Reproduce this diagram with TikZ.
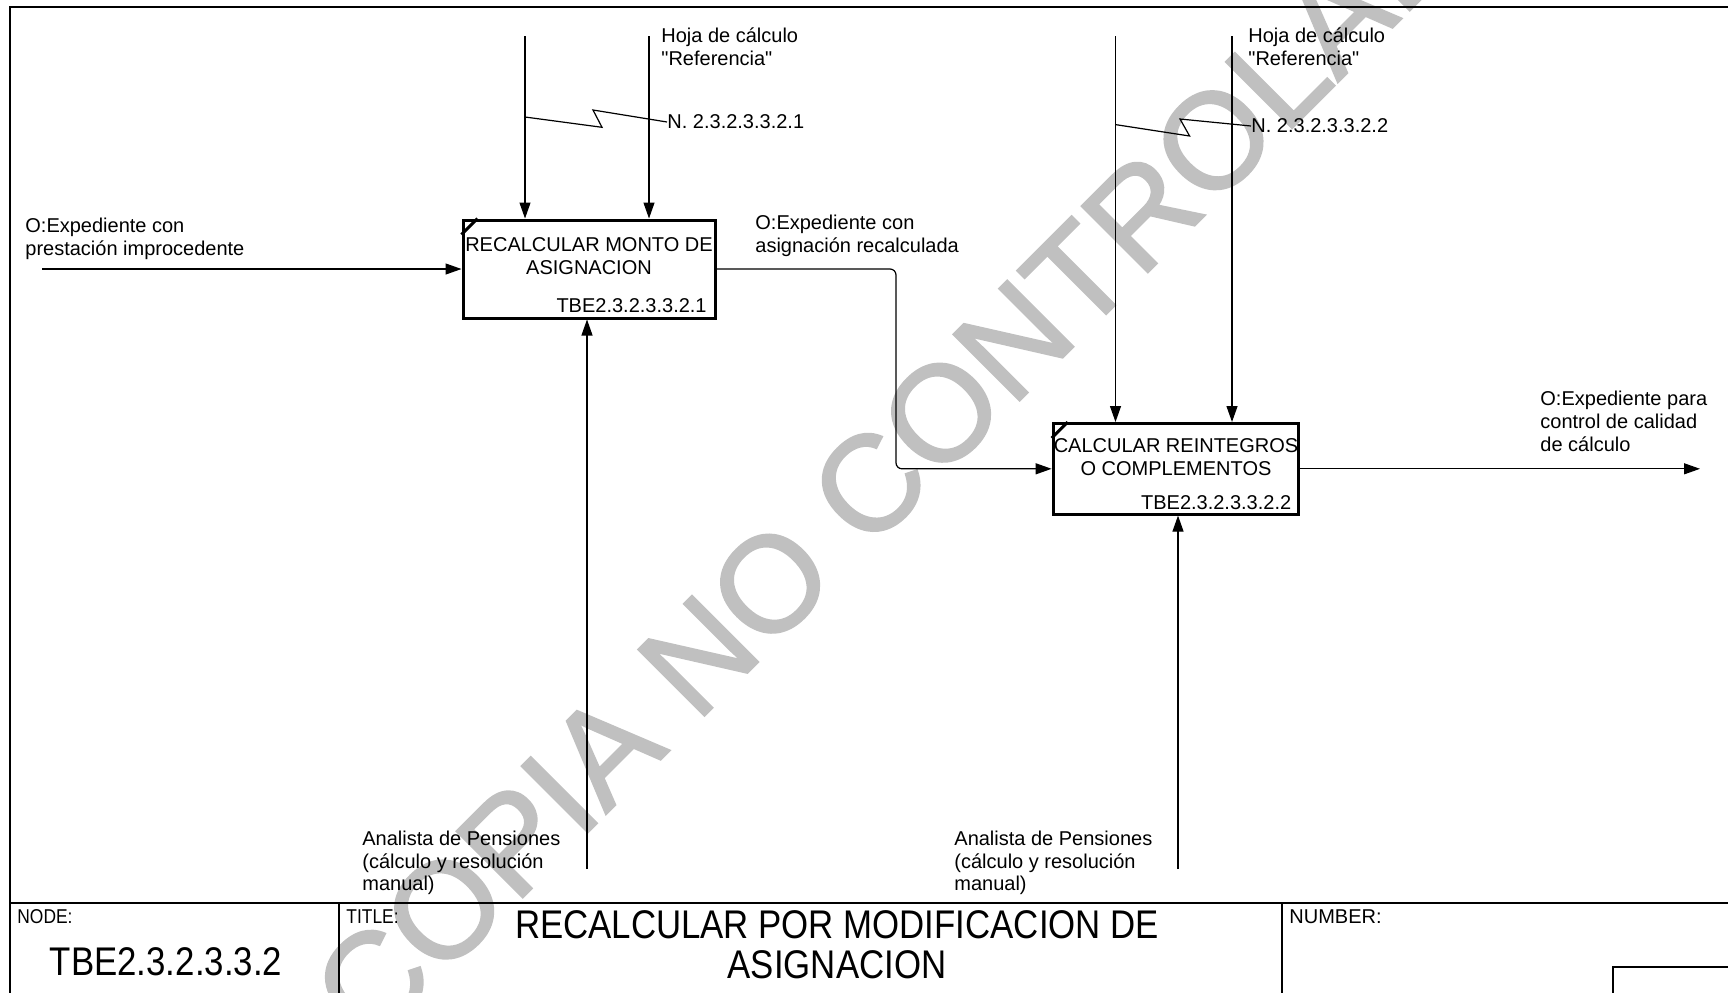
\documentclass[tikz,border=0pt]{standalone}
\usepackage{fontspec}
\setmainfont{Liberation Sans}
\newfontfamily\narrowsans[FakeStretch=0.87]{Liberation Sans}
\newfontfamily\wmsans[FakeBold=1.5]{Liberation Sans}
\usetikzlibrary{arrows.meta}
\definecolor{wmgray}{RGB}{192,192,192}

\begin{document}
\begin{tikzpicture}[x=0.5pt, y=-0.5pt,
    every node/.style={font=\fontsize{10pt}{11.4pt}\selectfont, inner sep=0pt},
    actbox/.style={draw, line width=1.5pt, fill=none},
    flow/.style={line width=0.6pt, -{Triangle[length=8pt,width=5.5pt]}},
    frame/.style={line width=0.9pt},
    lbl/.style={anchor=west, align=left},
    tblock/.style={font=\narrowsans\fontsize{#1}{#1}\selectfont}]
    \clip (0,0) rectangle (1728,992);
    \node[rotate=45, text=wmgray, font=\wmsans\fontsize{68pt}{68pt}\selectfont] (wm) at (920,434) {COPIA NO CONTROLADA};

    \draw[frame] (10,1000) |- (1740,7);
    \draw[frame] (10,903) -- (1740,903);
    \draw[frame] (339,903) -- (339,1000);
    \draw[frame] (1282,903) -- (1282,1000);
    \draw[line width=0.6pt] (1613,1000) |- (1740,967);

    \node[actbox, minimum width=126pt, minimum height=49pt] (recalc) at (589,269) {};
    \node[actbox, minimum width=122.5pt, minimum height=45.3pt] (calc) at (1175.6,468.8) {};
    \draw[line width=1.5pt] ([yshift=-8pt]recalc.north west) -- ([xshift=8pt]recalc.north west);
    \draw[line width=1.5pt] ([yshift=-8pt]calc.north west) -- ([xshift=8pt]calc.north west);
    \node[align=center] (recalc-name) at (589,256) {RECALCULAR MONTO DE\\ASIGNACION};
    \node[anchor=east] (recalc-num) at (707,305.6) {TBE2.3.2.3.3.2.1};
    \node[align=center] (calc-name) at (1176,457.5) {CALCULAR REINTEGROS\\O COMPLEMENTOS};
    \node[anchor=east] (calc-num) at (1291.6,503) {TBE2.3.2.3.3.2.2};

    \node[lbl] (in-lbl) at (25,239) {O:Expediente con\\prestación improcedente};
    \node[lbl] (ref1) at (661,46.4) {Hoja de cálculo\\\textquotedbl Referencia\textquotedbl};
    \node[lbl] (n1) at (667,122) {N. 2.3.2.3.3.2.1};
    \node[lbl] (out1-lbl) at (755,236) {O:Expediente con\\asignación recalculada};
    \node[lbl] (ref2) at (1248,46.4) {Hoja de cálculo\\\textquotedbl Referencia\textquotedbl};
    \node[lbl] (n2) at (1251,126) {N. 2.3.2.3.3.2.2};
    \node[lbl] (out2-lbl) at (1540,421.4) {O:Expediente para\\control de calidad\\de cálculo};
    \node[lbl] (mech1-lbl) at (362,863) {Analista de Pensiones\\(cálculo y resolución\\manual)};
    \node[lbl] (mech2-lbl) at (954,863) {Analista de Pensiones\\(cálculo y resolución\\manual)};

    \coordinate (in1) at (42,269);
    \coordinate (c1a) at (525,36);
    \coordinate (c1b) at (649,36);
    \coordinate (c2a) at (1115.5,36);
    \coordinate (c2b) at (1232,36);
    \coordinate (m1) at (587,869);
    \coordinate (m2) at (1178,869);
    \coordinate (jog) at (896,370);
    \coordinate (out2) at (1700,468.8);
    \coordinate (sq1) at (525,117);
    \coordinate (sq2) at (1115.5,124.6);

    \draw[flow] (in1) -- (recalc.west);
    \draw[flow] (c1a) -- (c1a |- recalc.north);
    \draw[flow] (c1b) -- (c1b |- recalc.north);
    \draw[flow] (m1) -- (m1 |- recalc.south);
    \draw[flow, rounded corners=3pt] (recalc.east) -| (jog) |- (calc.west);
    \draw[flow] (c2a) -- (c2a |- calc.north);
    \draw[flow] (c2b) -- (c2b |- calc.north);
    \draw[flow] (m2) -- (m2 |- calc.south);
    \draw[flow] (calc.east) -- (out2);

    \draw[line width=0.6pt] (sq1) -- (602,127.3) -- (593,110) -- (n1.west);
    \draw[line width=0.6pt] (sq2) -- (1189.6,136) -- (1180,119) -- (n2.west);

    \node[tblock=10pt, anchor=west] (node-lbl) at (17,917) {NODE:};
    \node[tblock=10pt, anchor=west] (title-lbl) at (346,917) {TITLE:};
    \node[anchor=west] (number-lbl) at (1289,917) {NUMBER:};
    \node[tblock=20pt] (node-id) at (166,962) {TBE2.3.2.3.3.2};
    \node[tblock=20pt, align=center] (title) at (837,945) {RECALCULAR POR MODIFICACION DE\\ASIGNACION};
\end{tikzpicture}
\end{document}
